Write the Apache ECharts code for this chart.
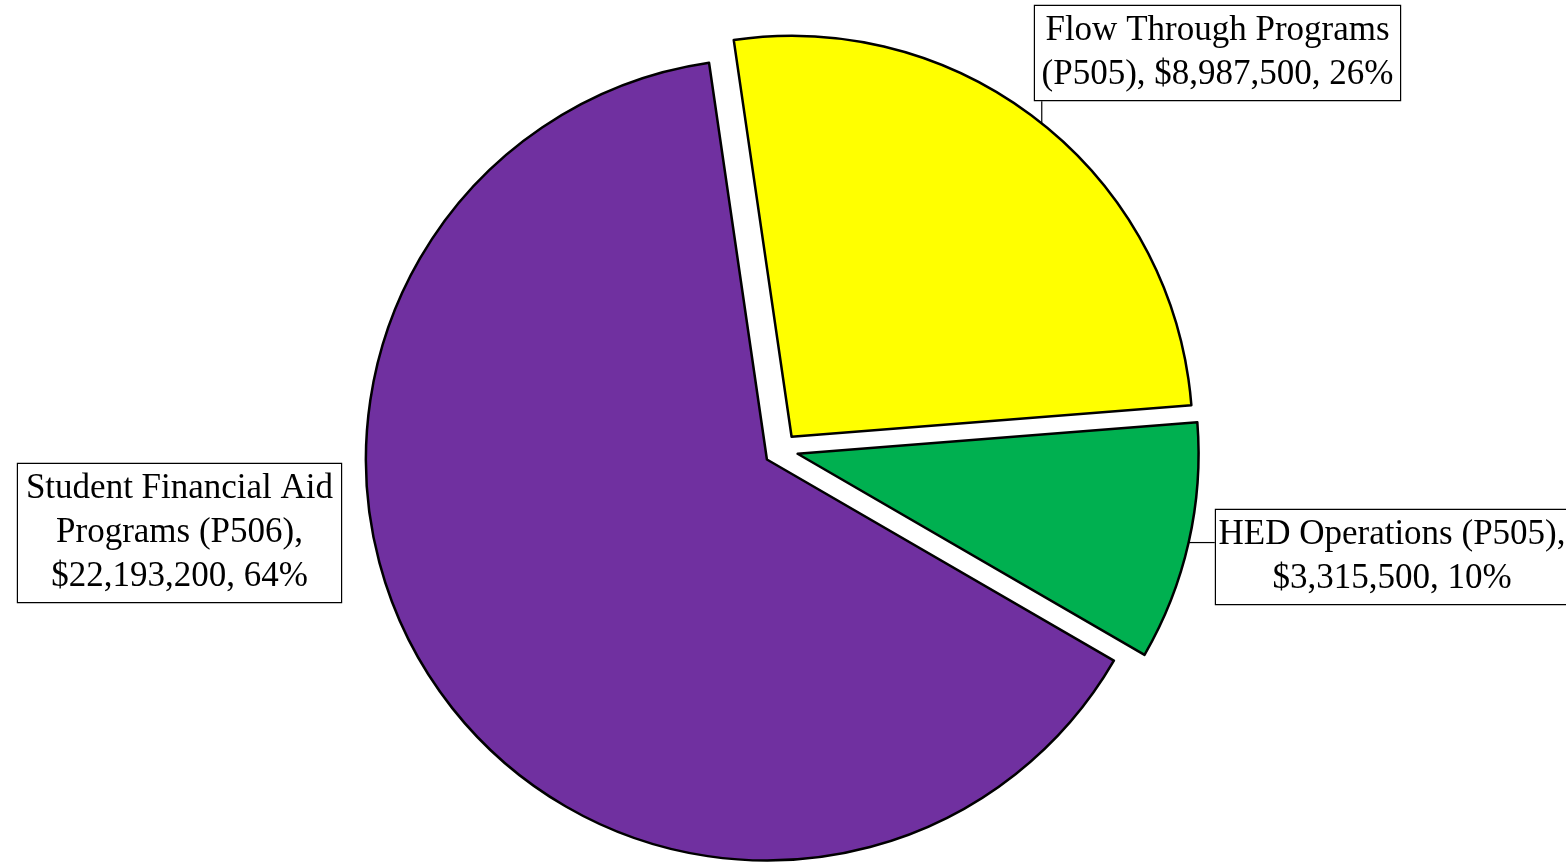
<!DOCTYPE html>
<html><head><meta charset="utf-8">
<script src="https://cdn.jsdelivr.net/npm/echarts@6/dist/echarts.min.js"></script>
<style>html,body{margin:0;padding:0;background:#fff;overflow:hidden}#chart{width:1566px;height:863px}</style>
</head><body><div id="chart"></div>
<script>
// ---- data ----
const categories = ['Flow Through Programs (P505)', 'HED Operations (P505)', 'Student Financial Aid Programs (P506)'];
const values = [8987500, 3315500, 22193200];
const colors = ['#FFFF00', '#00B050', '#7030A0'];

// ---- label box layout (centre x, centre y, content width) ----
const boxX = [1217.5, 1392, 179.5];
const boxY = [53, 557, 533];
const boxW = [365, 352, 323];
const showLeader = [true, true, false];

const FONT_SIZE = 35;
const FONT_FAMILY = 'Liberation Serif';
const measureCtx = document.createElement('canvas').getContext('2d');
measureCtx.font = FONT_SIZE + 'px "' + FONT_FAMILY + '"';
// greedy word wrap, breaking only at spaces
function wrap(text, maxW) {
  const words = text.split(' ');
  const lines = [];
  let cur = '';
  words.forEach(w => {
    const t = cur ? cur + ' ' + w : w;
    if (cur && measureCtx.measureText(t).width > maxW) { lines.push(cur); cur = w; }
    else cur = t;
  });
  if (cur) lines.push(cur);
  return lines.join('\n');
}

const chart = echarts.init(document.getElementById('chart'), null, {renderer: 'canvas'});

const CENTER = [781, 450];
const R = 401;
const OFFSET = 17;
const START = 98.3;

const sectorData = categories.map((name, i) => ({
  name: name, value: values[i], selected: true, itemStyle: {color: colors[i]}
}));
const labelData = categories.map((name, i) => ({
  name: name, value: values[i],
  label: {width: boxW[i]},
  labelLine: {show: showLeader[i]}
}));

const option = {
  animation: false,
  backgroundColor: '#ffffff',
  series: [{
    type: 'pie',
    center: CENTER,
    radius: R,
    startAngle: START,
    clockwise: true,
    selectedMode: 'multiple',
    selectedOffset: OFFSET,
    itemStyle: {borderColor: '#000', borderWidth: 2.5},
    emphasis: {disabled: true},
    label: {show: false},
    labelLine: {show: false},
    data: sectorData
  }, {
    // label layer (exploded radius so leader lines start on the exploded arc)
    type: 'pie',
    center: CENTER,
    radius: R + OFFSET,
    startAngle: START,
    clockwise: true,
    silent: true,
    selectedMode: false,
    avoidLabelOverlap: false,
    itemStyle: {color: 'rgba(0,0,0,0)', borderWidth: 0},
    emphasis: {disabled: true},
    z: 3,
    label: {
      show: true,
      position: 'outside',
      formatter: p => wrap(p.name + ', $' + p.value.toLocaleString('en-US') + ', ' + Math.round(p.percent) + '%', boxW[p.dataIndex]),
      fontFamily: FONT_FAMILY,
      fontSize: FONT_SIZE,
      lineHeight: 44,
      color: '#000',
      align: 'center',
      backgroundColor: '#fff',
      borderColor: '#000',
      borderWidth: 1.2,
      padding: [6, 0, 0, 0]
    },
    labelLine: {show: true, length: 10, length2: 10, lineStyle: {color: '#000', width: 1.2}},
    labelLayout: function (params) {
      const i = params.dataIndex;
      const w = params.labelRect.width, h = params.labelRect.height;
      const left = boxX[i] - w / 2, right = boxX[i] + w / 2;
      const top = boxY[i] - h / 2, bottom = boxY[i] + h / 2;
      const res = {x: boxX[i], y: boxY[i], align: 'center', verticalAlign: 'middle'};
      const pts = params.labelLinePoints;
      if (pts && pts.length) {
        const p0 = pts[0];
        const p2 = [Math.min(Math.max(p0[0], left), right), Math.min(Math.max(p0[1], top), bottom)];
        res.labelLinePoints = [p0, p2, p2];
      }
      return res;
    },
    data: labelData
  }]
};
chart.setOption(option);
</script>
</body></html>
